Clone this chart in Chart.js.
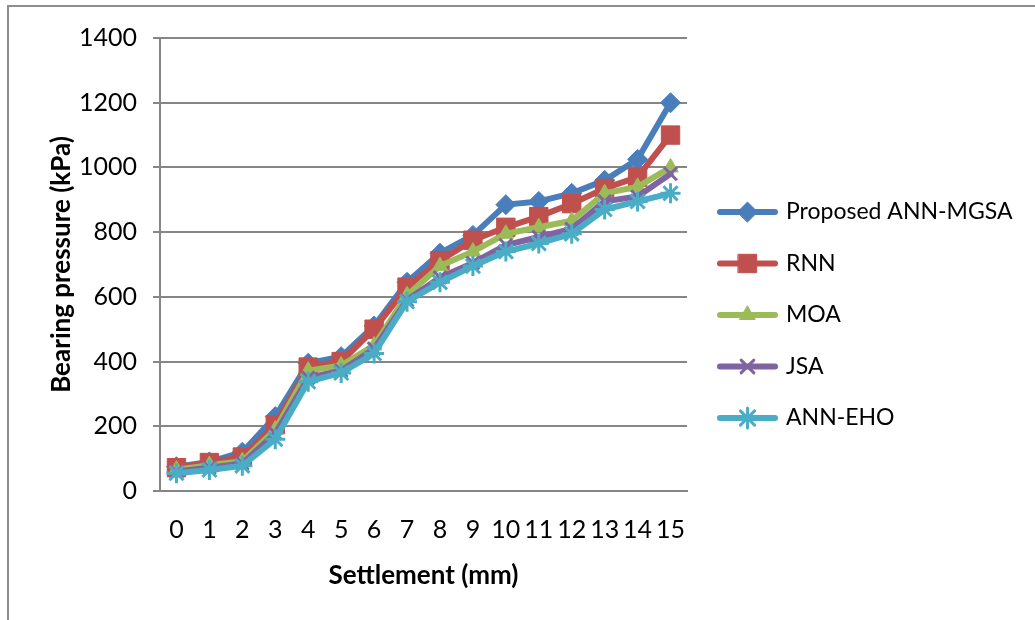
<!DOCTYPE html>
<html>
<head>
<meta charset="utf-8">
<script src="https://cdn.jsdelivr.net/npm/chart.js@4.4.1/dist/chart.umd.min.js"></script>
<style>
  html, body { margin: 0; padding: 0; background: #ffffff; overflow: hidden; }
  #frame {
    position: absolute; left: 7px; top: 5px; width: 1100px; height: 700px;
    border-top: 2px solid #8c8c8c; border-left: 2px solid #8c8c8c;
  }
  #wrap { position: absolute; left: 0; top: 0; width: 1035px; height: 620px; }
</style>
</head>
<body>
<div id="frame"></div>
<div id="wrap"><canvas id="chart" width="1035" height="620"></canvas></div>
<script>
// Settlement steps (mm) along the category axis
const settlement = ['0', '1', '2', '3', '4', '5', '6', '7', '8', '9', '10', '11', '12', '13', '14', '15'];

// Bearing pressure (kPa) per method
const annMgsa = [75, 90, 120, 230, 395, 415, 510, 645, 735, 790, 885, 895, 920, 960, 1025, 1200];
const rnn     = [72, 88, 105, 205, 383, 400, 500, 630, 712, 775, 815, 848, 888, 935, 970, 1100];
const moa     = [66, 80, 92, 190, 372, 388, 450, 605, 695, 740, 795, 815, 835, 920, 940, 1000];
const jsa     = [60, 72, 85, 178, 350, 372, 440, 590, 660, 705, 760, 785, 810, 895, 910, 980];
const annEho  = [55, 65, 78, 160, 338, 365, 425, 585, 645, 695, 740, 765, 795, 870, 895, 920];

// Value-axis ticks
const yTicks = [0, 200, 400, 600, 800, 1000, 1200, 1400];

const FONT = 'Lato, "Open Sans", sans-serif';
const GRID = '#868686';

function series(label, data, color, style, radius, bw, order) {
  return {
    label, data, order,
    borderColor: color,
    backgroundColor: color,
    borderWidth: 6,
    borderJoinStyle: 'round',
    borderCapStyle: 'round',
    pointStyle: style,
    pointRadius: radius,
    pointHoverRadius: radius,
    pointBackgroundColor: color,
    pointBorderColor: color,
    pointBorderWidth: bw,
    tension: 0
  };
}

// Legend at the right: a short line with the series marker, then its name
const sideLegend = {
  id: 'sideLegend',
  afterDraw(chart) {
    const ctx = chart.ctx;
    const top = 212, step = 51.5, x0 = 720, x1 = 775, tx = 786;
    chart.data.datasets.forEach((ds, i) => {
      const y = top + i * step;
      ctx.save();
      ctx.strokeStyle = ds.borderColor;
      ctx.lineWidth = ds.borderWidth;
      ctx.lineCap = 'round';
      ctx.beginPath();
      ctx.moveTo(x0, y);
      ctx.lineTo(x1, y);
      ctx.stroke();
      ctx.fillStyle = ds.pointBackgroundColor;
      ctx.strokeStyle = ds.pointBorderColor;
      ctx.lineWidth = ds.pointBorderWidth;
      Chart.helpers.drawPoint(ctx, {
        pointStyle: ds.pointStyle, radius: ds.pointRadius,
        borderWidth: ds.pointBorderWidth, rotation: 0
      }, (x0 + x1) / 2, y);
      ctx.fillStyle = '#000000';
      ctx.font = '23px ' + FONT;
      ctx.textBaseline = 'middle';
      ctx.textAlign = 'left';
      ctx.fillText(ds.label, tx, y);
      ctx.restore();
    });
  }
};

new Chart(document.getElementById('chart'), {
  type: 'line',
  data: {
    labels: settlement,
    datasets: [
      series('Proposed ANN-MGSA', annMgsa, '#4a7ebb', 'rectRot', 10, 1, 5),
      series('RNN', rnn, '#c0504d', 'rect', 13, 1, 4),
      series('MOA', moa, '#9bbb59', 'triangle', 9, 1, 3),
      series('JSA', jsa, '#8064a2', 'crossRot', 9, 3, 2),
      series('ANN-EHO', annEho, '#4bacc6', 'star', 10, 3, 1)
    ]
  },
  options: {
    responsive: false,
    animation: false,
    devicePixelRatio: 1,
    layout: { padding: { left: 0, right: 348, top: 38, bottom: 0 } },
    plugins: {
      legend: { display: false },
      tooltip: { enabled: false }
    },
    scales: {
      x: {
        type: 'category',
        offset: true,
        grid: { display: false, offset: true },
        border: { display: true, color: GRID, width: 2 },
        ticks: { color: '#000000', font: { family: FONT, size: 25 }, padding: 16, maxRotation: 0, autoSkip: false },
        title: {
          display: true, text: 'Settlement (mm)', color: '#000000',
          font: { family: FONT, size: 26, weight: 'bold' },
          padding: { top: 0, bottom: 29 }
        },
        afterFit(s) { s.height = 129; }
      },
      y: {
        min: yTicks[0],
        max: yTicks[yTicks.length - 1],
        afterBuildTicks(s) { s.ticks = yTicks.map(v => ({ value: v })); },
        grid: { color: GRID, lineWidth: 2, tickLength: 7, drawTicks: true },
        border: { display: true, color: GRID, width: 2 },
        ticks: {
          color: '#000000', font: { family: FONT, size: 25 }, padding: 16,
          callback: v => String(v)
        },
        title: {
          display: true, text: 'Bearing pressure (kPa)', color: '#000000',
          font: { family: FONT, size: 26, weight: 'bold' },
          padding: { top: 46, bottom: 0 }
        },
        afterFit(s) { s.width = 160; }
      }
    }
  },
  plugins: [sideLegend]
});
</script>
</body>
</html>
